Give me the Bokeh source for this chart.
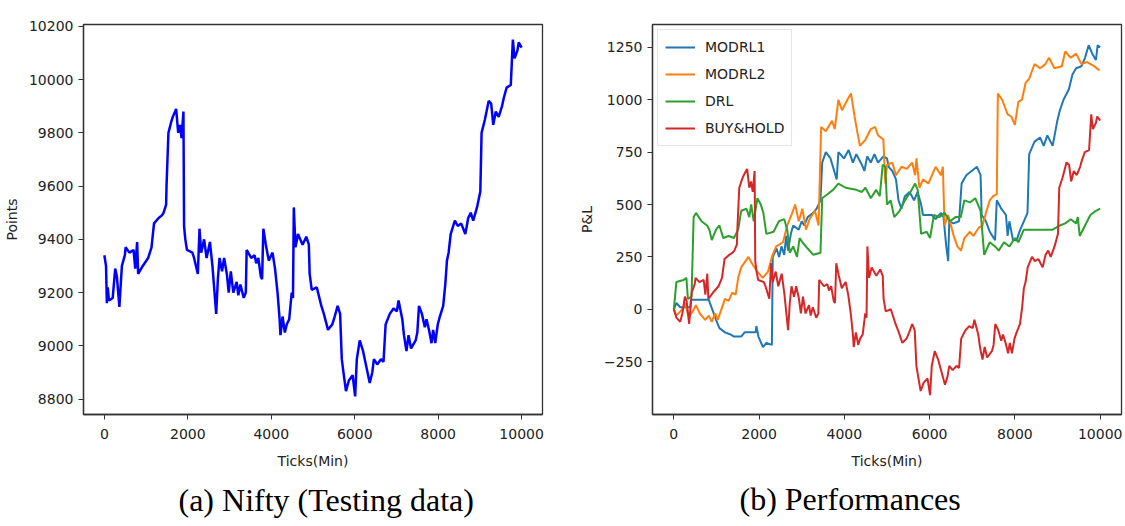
from bokeh.plotting import figure
from bokeh.layouts import row
from bokeh.models import FixedTicker, Range1d, Title
from bokeh.embed import file_html
from bokeh.resources import INLINE

# ---------------- data ----------------
nifty_t = [0, 40, 60, 80, 110, 200, 260, 300, 360, 420, 490, 510, 600, 700, 740, 785, 810, 920, 1050, 1130,
           1190, 1300, 1380, 1420, 1480, 1490, 1535, 1600, 1640, 1720, 1770, 1810, 1850, 1895, 1910, 1940, 1980,
           2110, 2150, 2240, 2280, 2320, 2390, 2450, 2530, 2590, 2640, 2680, 2720, 2760, 2820, 2870, 2935, 2980,
           3030, 3090, 3170, 3210, 3260, 3340, 3390, 3410, 3520, 3600, 3640, 3690, 3750, 3780, 3810, 3870, 3940,
           4030, 4090, 4150, 4200, 4220, 4270, 4325, 4370, 4430, 4490, 4520, 4540, 4580, 4640, 4750, 4840, 4900,
           4920, 4970, 5090, 5200, 5260, 5360, 5460, 5520, 5590, 5650, 5690, 5730, 5790, 5860, 5950, 6010, 6050,
           6120, 6200, 6360, 6420, 6460, 6540, 6630, 6690, 6740, 6840, 6930, 7010, 7050, 7140, 7180, 7240, 7290,
           7350, 7460, 7500, 7540, 7610, 7680, 7720, 7780, 7840, 7880, 7930, 7990, 8040, 8120, 8170, 8210, 8250,
           8300, 8340, 8400, 8470, 8550, 8650, 8720, 8780, 8840, 8930, 9010, 9040, 9120, 9210, 9270, 9320, 9380,
           9450, 9530, 9570, 9640, 9740, 9790, 9830, 9900, 9930, 10000]
nifty_v = [9340, 9300, 9160, 9220, 9170, 9180, 9290, 9260, 9146, 9300, 9340, 9370, 9350, 9360, 9290, 9390, 9270,
           9300, 9330, 9370, 9460, 9480, 9490, 9500, 9530, 9600, 9800, 9840, 9860, 9890, 9800, 9830, 9780, 9880,
           9450, 9400, 9360, 9350, 9330, 9270, 9440, 9350, 9400, 9330, 9390, 9300, 9200, 9120, 9250, 9330, 9280,
           9330, 9270, 9200, 9280, 9200, 9240, 9190, 9230, 9180, 9200, 9360, 9330, 9340, 9310, 9330, 9260, 9250,
           9440, 9380, 9320, 9350, 9290, 9200, 9100, 9040, 9110, 9050, 9080, 9100, 9200, 9180, 9520, 9370, 9420,
           9380, 9410, 9380, 9270, 9210, 9220, 9150, 9120, 9060, 9080, 9110, 9150, 9120, 8950, 8900, 8830, 8870,
           8890, 8810, 8950, 9020, 8980, 8860, 8900, 8950, 8930, 8950, 8940, 9080, 9120, 9140, 9130, 9170, 9100,
           9040, 8980, 9040, 8990, 9020, 9050, 9150, 9120, 9070, 9100, 9060, 9010, 9060, 9010, 9080, 9110, 9150,
           9230, 9320, 9350, 9420, 9440, 9470, 9450, 9460, 9420, 9480, 9500, 9470, 9520, 9580, 9800, 9850, 9920,
           9910, 9830, 9880, 9860, 9900, 9930, 9970, 9980, 10150, 10080, 10110, 10140, 10120]

modrl1_t = [0, 60, 150, 270, 390, 400, 820, 990, 1070, 1200, 1330, 1410, 1580, 1660, 1920, 1935, 1985, 2090, 2170,
            2300, 2320, 2410, 2470, 2525, 2590, 2635, 2680, 2745, 2800, 2930, 3000, 3060, 3140, 3270, 3350, 3440,
            3480, 3565, 3675, 3775, 3820, 3860, 3990, 4100, 4200, 4280, 4410, 4470, 4535, 4620, 4705, 4790, 4915,
            5000, 5040, 5125, 5210, 5270, 5340, 5420, 5530, 5635, 5720, 5800, 5845, 6055, 6140, 6265, 6325, 6390,
            6435, 6460, 6560, 6690, 6750, 6860, 6985, 7110, 7195, 7220, 7320, 7410, 7535, 7575, 7680, 7790, 7830,
            7870, 7955, 8040, 8125, 8210, 8295, 8335, 8460, 8590, 8675, 8760, 8885, 8995, 9055, 9140, 9265, 9350,
            9435, 9560, 9645, 9730, 9815, 9900, 9940, 10000]
modrl1_v = [0, 30, 10, 10, 10, 45, 45, -50, -90, -110, -120, -130, -130, -110, -110, -80, -130, -180, -160, -170,
            250, 290, 250, 300, 260, 350, 280, 360, 400, 380, 420, 400, 440, 460, 480, 520, 700, 750, 720, 650,
            620, 750, 720, 760, 700, 740, 690, 660, 730, 700, 740, 700, 730, 720, 680, 660, 620, 520, 480, 540,
            560, 520, 560, 500, 450, 450, 430, 460, 440, 300, 230, 420, 410, 420, 600, 640, 660, 680, 640, 450,
            420, 370, 330, 520, 480, 450, 350, 420, 330, 330, 380, 420, 460, 740, 800, 820, 780, 830, 780, 900,
            950, 1000, 1050, 1120, 1150, 1160, 1200, 1260, 1220, 1190, 1260, 1250]

modrl2_t = [0, 60, 200, 270, 350, 470, 520, 610, 735, 820, 890, 970, 1030, 1115, 1200, 1285, 1370, 1450, 1510,
            1580, 1750, 1830, 1960, 2085, 2210, 2300, 2400, 2560, 2660, 2760, 2845, 2930, 3015, 3100, 3185, 3310,
            3395, 3455, 3565, 3710, 3775, 3860, 3945, 4070, 4155, 4240, 4300, 4365, 4495, 4620, 4720, 4790, 4915,
            4960, 5000, 5125, 5210, 5340, 5465, 5590, 5660, 5690, 5760, 5845, 5970, 6140, 6265, 6310, 6350, 6435,
            6565, 6650, 6735, 6815, 6945, 7025, 7155, 7240, 7320, 7410, 7490, 7575, 7600, 7700, 7830, 7915, 8000,
            8080, 8165, 8250, 8335, 8460, 8590, 8715, 8800, 8925, 9100, 9180, 9310, 9435, 9560, 9690, 9860, 9985]
modrl2_v = [0, -30, 0, 30, -40, 0, 20, -20, -50, -30, -60, -20, -50, 0, 50, 40, 80, 70, 150, 200, 250, 220, 180,
            150, 180, 250, 300, 320, 400, 450, 500, 420, 480, 380, 430, 470, 400, 870, 850, 900, 860, 1000, 950,
            1000, 1030, 920, 850, 780, 810, 860, 870, 830, 810, 600, 690, 700, 640, 680, 670, 700, 640, 720, 580,
            620, 600, 680, 640, 680, 400, 450, 350, 300, 280, 340, 370, 350, 390, 400, 460, 520, 540, 550, 1030,
            1000, 930, 920, 880, 990, 1000, 1080, 1100, 1170, 1150, 1170, 1200, 1150, 1160, 1230, 1200, 1220, 1170,
            1180, 1160, 1140]

drl_t = [0, 60, 230, 295, 330, 415, 465, 520, 650, 780, 835, 890, 990, 1070, 1160, 1285, 1410, 1510, 1580, 1705,
         1770, 1815, 1875, 1960, 2040, 2100, 2170, 2340, 2465, 2590, 2660, 2720, 2800, 2890, 2950, 3015, 3140, 3270,
         3440, 3480, 3610, 3735, 3860, 4030, 4280, 4410, 4495, 4620, 4745, 4830, 4900, 4960, 5000, 5085, 5170,
         5295, 5420, 5550, 5660, 5720, 5800, 5930, 6010, 6100, 6225, 6350, 6475, 6605, 6730, 6815, 6945, 7070,
         7195, 7280, 7410, 7535, 7620, 7745, 7870, 8000, 8080, 8210, 8335, 8590, 8885, 9055, 9180, 9310, 9435,
         9475, 9520, 9645, 9770, 9900, 10000]
drl_v = [0, 130, 140, 150, 50, 60, 440, 460, 420, 400, 380, 330, 380, 400, 340, 350, 340, 380, 470, 480, 440, 500,
         420, 530, 500, 460, 360, 370, 420, 430, 380, 270, 300, 250, 340, 320, 290, 260, 270, 530, 550, 570, 600,
         580, 570, 560, 580, 530, 570, 540, 690, 680, 500, 520, 440, 470, 520, 560, 600, 570, 360, 370, 340, 450,
         440, 460, 420, 440, 440, 520, 510, 530, 470, 260, 320, 300, 280, 320, 300, 340, 320, 380, 380, 380, 380,
         400, 410, 430, 410, 440, 350, 400, 450, 470, 480]

bh_t = [0, 60, 150, 200, 260, 300, 360, 420, 490, 510, 600, 700, 740, 785, 810, 920, 1050, 1130, 1190, 1300, 1380,
        1420, 1480, 1490, 1535, 1600, 1640, 1720, 1770, 1810, 1850, 1895, 1910, 1940, 1980, 2110, 2150, 2240, 2280,
        2320, 2390, 2450, 2530, 2590, 2640, 2680, 2720, 2760, 2820, 2870, 2935, 2980, 3030, 3090, 3170, 3210, 3260,
        3340, 3390, 3410, 3520, 3600, 3640, 3690, 3750, 3780, 3810, 3870, 3940, 4030, 4090, 4150, 4200, 4220, 4270,
        4325, 4370, 4430, 4490, 4520, 4540, 4580, 4640, 4750, 4840, 4900, 4920, 4970, 5090, 5200, 5260, 5360, 5460,
        5520, 5590, 5650, 5690, 5730, 5790, 5860, 5950, 6010, 6050, 6120, 6200, 6360, 6420, 6460, 6540, 6630, 6690,
        6740, 6840, 6930, 7010, 7050, 7140, 7180, 7240, 7290, 7350, 7460, 7500, 7540, 7610, 7680, 7720, 7780, 7840,
        7880, 7930, 7990, 8040, 8120, 8170, 8210, 8250, 8300, 8340, 8400, 8470, 8550, 8650, 8720, 8780, 8840, 8930,
        9010, 9040, 9120, 9210, 9270, 9320, 9380, 9450, 9530, 9570, 9640, 9740, 9790, 9830, 9900, 9930, 10000]
bh_v = [0, -40, -60, -20, 60, 40, -70, 80, 120, 150, 130, 140, 70, 170, 50, 80, 110, 150, 240, 260, 270, 280, 310,
        380, 580, 620, 640, 670, 580, 610, 560, 660, 230, 180, 140, 130, 110, 50, 220, 130, 180, 110, 170, 80, -20,
        -100, 30, 110, 60, 110, 50, -20, 60, -20, 20, -30, 10, -40, -20, 140, 110, 120, 90, 110, 40, 30, 220, 160,
        100, 130, 70, -20, -120, -180, -110, -170, -140, -120, -20, -40, 300, 150, 200, 160, 190, 160, 50, -10, 0,
        -70, -100, -160, -140, -110, -70, -100, -270, -320, -390, -350, -330, -410, -270, -200, -240, -360, -320,
        -270, -290, -270, -280, -140, -100, -80, -90, -50, -120, -180, -240, -180, -230, -200, -170, -70, -100,
        -150, -120, -160, -210, -160, -210, -140, -110, -70, 10, 100, 130, 200, 220, 250, 230, 240, 200, 260, 280,
        250, 300, 360, 580, 630, 700, 690, 610, 660, 640, 680, 710, 750, 760, 930, 860, 890, 920, 900]

series_names = ["MODRL1", "MODRL2", "DRL", "BUY&HOLD"]
series_colors = ["#1f77b4", "#ff7f0e", "#2ca02c", "#d62728"]
x_ticks = [0, 2000, 4000, 6000, 8000, 10000]
left_y_ticks = [8800, 9000, 9200, 9400, 9600, 9800, 10000, 10200]
right_y_ticks = [-250, 0, 250, 500, 750, 1000, 1250]

TICK_FONT = "DejaVu Sans"
CAP_FONT = "Liberation Serif"


def style(p, xlabel, ylabel):
    p.grid.visible = False
    p.outline_line_color = "#333333"
    p.outline_line_width = 1.3
    p.background_fill_color = "white"
    p.border_fill_color = "white"
    for ax in (p.xaxis[0], p.yaxis[0]):
        ax.axis_line_color = "#333333"
        ax.axis_line_width = 1.3
        ax.major_tick_line_color = "#333333"
        ax.major_tick_out = 5
        ax.major_tick_in = 0
        ax.minor_tick_line_color = None
        ax.major_label_text_font = TICK_FONT
        ax.major_label_text_font_size = "14px"
        ax.major_label_text_color = "#222222"
        ax.axis_label_text_font = TICK_FONT
        ax.axis_label_text_font_size = "14px"
        ax.axis_label_text_font_style = "normal"
        ax.axis_label_text_color = "#222222"
    p.xaxis[0].axis_label = xlabel
    p.yaxis[0].axis_label = ylabel
    p.xaxis[0].ticker = FixedTicker(ticks=x_ticks)
    p.xaxis[0].major_label_standoff = 9
    p.xaxis[0].axis_label_standoff = 11
    p.yaxis[0].major_label_standoff = 5
    p.yaxis[0].axis_label_standoff = 6


# ---------------- left panel ----------------
p1 = figure(width=560, height=526, output_backend="svg", toolbar_location=None,
            x_range=Range1d(-500, 10500), y_range=Range1d(8742, 10207),
            min_border_left=82, min_border_right=18, min_border_top=12, min_border_bottom=112)
p1.line(nifty_t, nifty_v, line_color="#0000ff", line_width=2.5)
style(p1, "Ticks(Min)", "Points")
p1.yaxis[0].ticker = FixedTicker(ticks=left_y_ticks)
cap1 = Title(text="(a) Nifty (Testing data)", align="left", offset=95,
             text_font=CAP_FONT, text_font_size="32px", text_font_style="normal",
             text_color="black", standoff=16)
p1.add_layout(cap1, "below")

# ---------------- right panel ----------------
p2 = figure(width=565, height=526, output_backend="svg", toolbar_location=None,
            x_range=Range1d(-500, 10500), y_range=Range1d(-502, 1359),
            min_border_left=92, min_border_right=4, min_border_top=24, min_border_bottom=110)
data = [(modrl1_t, modrl1_v), (modrl2_t, modrl2_v), (drl_t, drl_v), (bh_t, bh_v)]
for (tt, vv), name, col in zip(data, series_names, series_colors):
    p2.line(tt, vv, line_color=col, line_width=2, legend_label=name)
style(p2, "Ticks(Min)", "P&L")
p2.yaxis[0].ticker = FixedTicker(ticks=right_y_ticks)
p2.yaxis[0].major_label_overrides = {-250: "\u2212250"}

lg = p2.legend[0]
lg.location = "top_left"
lg.margin = 5
lg.padding = 7
lg.spacing = 7
lg.glyph_width = 30
lg.glyph_height = 20
lg.label_height = 20
lg.label_standoff = 10
lg.label_text_font = TICK_FONT
lg.label_text_font_size = "14px"
lg.label_text_color = "#222222"
lg.border_line_color = "#cccccc"
lg.border_line_width = 1
lg.background_fill_alpha = 0.8

cap2 = Title(text="(b) Performances", align="left", offset=87,
             text_font=CAP_FONT, text_font_size="32px", text_font_style="normal",
             text_color="black", standoff=14)
p2.add_layout(cap2, "below")

layout = row(p1, p2, spacing=0)
open("out.html", "w").write(file_html(layout, INLINE))
